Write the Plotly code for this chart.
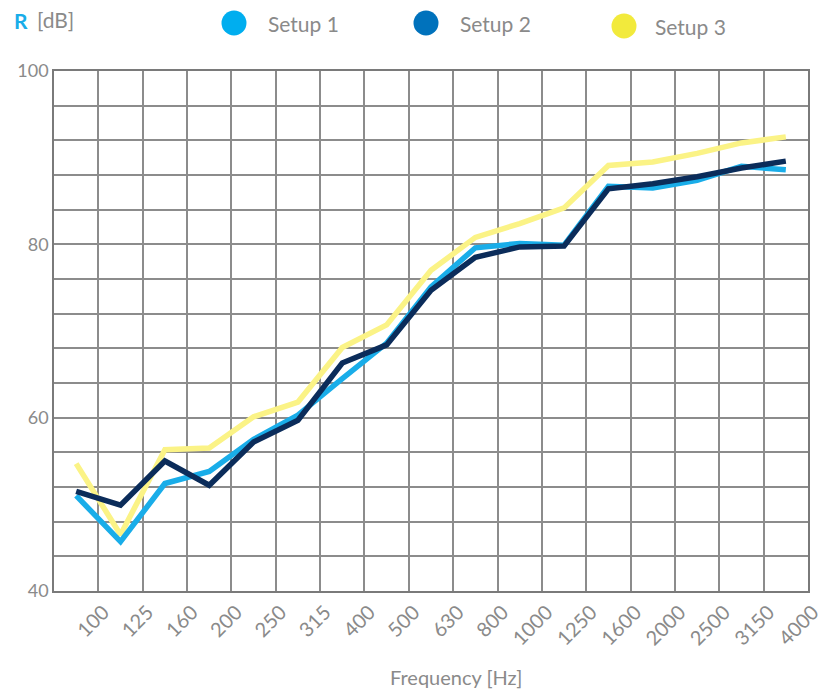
import plotly.graph_objects as go

freq_labels = ["100", "125", "160", "200", "250", "315", "400", "500", "630",
               "800", "1000", "1250", "1600", "2000", "2500", "3150", "4000"]
setup1 = [51.0, 45.7, 52.4, 53.8, 57.5, 60.3, 64.5, 68.6, 75.1, 79.6, 80.1, 79.9, 86.7, 86.5, 87.4, 89.0, 88.6]
setup2 = [51.5, 49.9, 55.0, 52.2, 57.2, 59.7, 66.3, 68.4, 74.7, 78.5, 79.7, 79.8, 86.4, 87.0, 87.8, 88.8, 89.6]
setup3 = [54.7, 46.5, 56.3, 56.5, 60.1, 61.8, 68.1, 70.7, 77.0, 80.8, 82.4, 84.2, 89.1, 89.5, 90.5, 91.7, 92.4]
series_names = ["Setup 1", "Setup 2", "Setup 3"]
line_colors = ["#19ADE9", "#0B2C5A", "#FBF386"]
legend_colors = ["#00AEEF", "#0072BC", "#F2EA3C"]
y_ticks = list(range(40, 101, 4))
y_labels = [str(v) if v % 20 == 0 else "" for v in y_ticks]

FONT = "Lato"
GRAY = "#8a8a8a"
OFF = 8  # browser body margin
W, H = 832 - OFF, 692 - OFF
L, T = 54 - OFF, 71 - OFF
R = W - (808 - OFF)
B = H - (591 - OFF)
PW, PH = W - L - R, H - T - B

def px(x):  # page pixel -> paper
    return (x - OFF - L) / PW

def py(y):
    return (H - B - (y - OFF)) / PH

xs = list(range(len(freq_labels)))
fig = go.Figure()
# draw yellow first, then light blue, then navy on top
for idx in [2, 0, 1]:
    data = [setup1, setup2, setup3][idx]
    fig.add_trace(go.Scatter(x=xs, y=data, mode="lines", name=series_names[idx],
                             line=dict(color=line_colors[idx], width=5.5),
                             showlegend=False))

fig.update_layout(
    width=W, height=H,
    margin=dict(l=L, r=R, t=T, b=B, autoexpand=False),
    paper_bgcolor="white", plot_bgcolor="white",
    font=dict(family=FONT, color=GRAY, size=18),
    showlegend=False,
    xaxis=dict(range=[-0.5, len(freq_labels) - 0.5],
               tickmode="array",
               tickvals=[i + 0.5 for i in xs],
               ticktext=freq_labels,
               tickangle=-45,
               ticklabelshift=5,
               automargin=False,
               ticks="", showgrid=True, gridcolor="#8c8c8c", gridwidth=1.5,
               showline=True, linecolor="#7a7a7a", linewidth=1.5, mirror=True,
               zeroline=False, tickfont=dict(size=20, color=GRAY)),
    yaxis=dict(range=[40, 100], tickmode="array", tickvals=y_ticks, ticktext=y_labels,
               automargin=False,
               ticks="", showgrid=True, gridcolor="#8c8c8c", gridwidth=1.5,
               showline=True, linecolor="#7a7a7a", linewidth=1.5, mirror=True,
               zeroline=False, tickfont=dict(size=18, color=GRAY),
               ticklabelstandoff=0),
)

annotations = [
    dict(x=px(12), y=py(21), xref="paper", yref="paper", text="<b>R</b>",
         showarrow=False, xanchor="left", yanchor="middle",
         font=dict(size=21, color="#19ADE9", family=FONT)),
    dict(x=px(35), y=py(20), xref="paper", yref="paper", text="[dB]",
         showarrow=False, xanchor="left", yanchor="middle",
         font=dict(size=21, color=GRAY, family=FONT)),
    dict(x=px(456), y=py(677), xref="paper", yref="paper", text="Frequency [Hz]",
         showarrow=False, xanchor="center", yanchor="middle",
         font=dict(size=20, color=GRAY, family=FONT)),
]
legend_pos = [(234, 23, 266), (426, 23, 458), (624, 26, 653)]
shapes = []
for (cx, cy, tx), name, col in zip(legend_pos, series_names, legend_colors):
    shapes.append(dict(type="circle", xref="paper", yref="paper",
                       xsizemode="pixel", ysizemode="pixel",
                       xanchor=px(cx), yanchor=py(cy),
                       x0=-12.5, x1=12.5, y0=-12.5, y1=12.5,
                       fillcolor=col, line=dict(width=0)))
    annotations.append(dict(x=px(tx), y=py(cy), xref="paper", yref="paper", text=name,
                            showarrow=False, xanchor="left", yanchor="middle",
                            font=dict(size=21, color=GRAY, family=FONT)))
fig.update_layout(annotations=annotations, shapes=shapes)

fig.write_html("out.html")
